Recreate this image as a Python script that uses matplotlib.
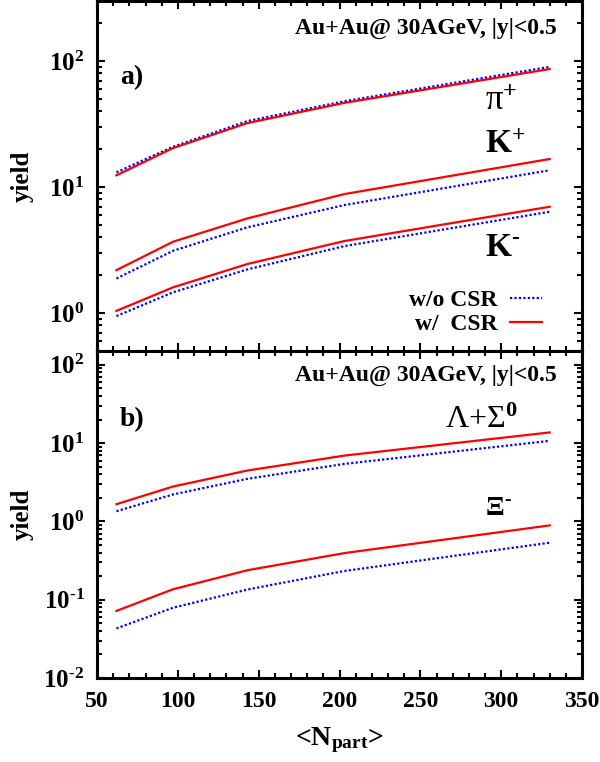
import matplotlib
matplotlib.use("Agg")
import matplotlib.pyplot as plt
from matplotlib.ticker import FuncFormatter, MultipleLocator, LogLocator
import numpy as np

plt.rcParams['font.family'] = ['Liberation Serif', 'DejaVu Serif']
plt.rcParams['font.weight'] = 'bold'
plt.rcParams['mathtext.fontset'] = 'custom'
plt.rcParams['mathtext.rm'] = 'Liberation Serif:bold'
plt.rcParams['mathtext.bf'] = 'Liberation Serif:bold'
plt.rcParams['mathtext.it'] = 'Liberation Serif:italic:bold'

# <N_part> grid
npart = [62, 97, 143, 203, 330]

# panel a) pi+, K+, K-  (w/o CSR = blue dotted, w/ CSR = red solid)
pi_wo = [13.1, 20.9, 33.4, 48.0, 90.0]
pi_w = [12.4, 20.4, 32.2, 46.6, 86.5]
kp_wo = [1.88, 3.12, 4.79, 7.2, 13.6]
kp_w = [2.19, 3.68, 5.64, 8.8, 16.7]
km_wo = [0.946, 1.46, 2.22, 3.4, 6.37]
km_w = [1.04, 1.60, 2.45, 3.73, 6.98]

# panel b) Lambda+Sigma0, Xi-
lam_wo = [1.35, 2.21, 3.5, 5.43, 10.7]
lam_w = [1.66, 2.79, 4.47, 6.93, 13.7]
xi_wo = [0.043, 0.079, 0.135, 0.233, 0.535]
xi_w = [0.072, 0.136, 0.238, 0.394, 0.89]

BLUE = '#0000ff'
RED = '#ff0000'
DOT = (0, (1, 1))


def exp_label(v, p):
    e = int(round(np.log10(v)))
    if e < 0:
        return r'$\mathbf{10^{\text{-}%d}}$' % (-e)
    return r'$\mathbf{10^{%d}}$' % e


fig = plt.figure(figsize=(6, 7.62), dpi=100)
ax1 = fig.add_axes([0.1617, 0.5394, 0.8083, 0.4593])
ax2 = fig.add_axes([0.1617, 0.1102, 0.8083, 0.4291])

for wo, w in [(pi_wo, pi_w), (kp_wo, kp_w), (km_wo, km_w)]:
    ax1.plot(npart, wo, color=BLUE, ls=DOT, lw=1.6)
    ax1.plot(npart, w, color=RED, lw=1.6)

for wo, w in [(lam_wo, lam_w), (xi_wo, xi_w)]:
    ax2.plot(npart, wo, color=BLUE, ls=DOT, lw=1.6)
    ax2.plot(npart, w, color=RED, lw=1.6)

for ax in (ax1, ax2):
    ax.set_yscale('log')
    ax.set_xlim(50, 350)
    ax.xaxis.set_major_locator(MultipleLocator(50))
    ax.xaxis.set_minor_locator(MultipleLocator(10))
    ax.yaxis.set_major_locator(LogLocator(base=10, numticks=10))
    ax.yaxis.set_minor_locator(LogLocator(base=10, subs=np.arange(2, 10), numticks=20))
    ax.yaxis.set_major_formatter(FuncFormatter(exp_label))
    ax.tick_params(which='both', direction='in', top=True, right=True, width=1.5)
    ax.tick_params(which='major', length=6)
    ax.tick_params(which='minor', length=3.5)
    ax.tick_params(axis='y', which='major', labelsize=18, pad=9)
    ax.tick_params(axis='x', which='major', labelsize=17, pad=9)
    for s in ax.spines.values():
        s.set_linewidth(2.2)
    ax.set_ylabel('yield', fontsize=18, fontweight='bold')
    ax.yaxis.set_label_coords(-0.13, 0.5)

ax1.set_ylim(0.5, 300)
ax2.set_ylim(0.01, 150)
ax1.tick_params(axis='x', labelbottom=False)

ax2.set_xlabel('<N$_{\\mathbf{part}}$>', fontsize=20, fontweight='bold')
ax2.xaxis.set_label_coords(0.5, -0.145)

title = 'Au+Au@ 30AGeV, |y|<0.5'
ax1.text(0.948, 0.923, title, transform=ax1.transAxes, ha='right', va='center',
         fontsize=17, fontweight='bold')
ax2.text(0.948, 0.927, title, transform=ax2.transAxes, ha='right', va='center',
         fontsize=17, fontweight='bold')

ax1.text(0.047, 0.78, 'a)', transform=ax1.transAxes, ha='left', va='center',
         fontsize=20, fontweight='bold')
ax2.text(0.047, 0.789, 'b)', transform=ax2.transAxes, ha='left', va='center',
         fontsize=20, fontweight='bold')

ax1.text(0.80, 0.714, 'π$^{\\mathbf{+}}$', transform=ax1.transAxes, ha='left', va='center',
         fontsize=25, fontweight='normal')
ax1.text(0.80, 0.591, 'K$^{\\mathbf{+}}$', transform=ax1.transAxes, ha='left', va='center',
         fontsize=24, fontweight='bold')
ax1.text(0.80, 0.297, 'K$^{\\text{-}}$', transform=ax1.transAxes, ha='left', va='center',
         fontsize=24, fontweight='bold')

ax2.text(0.718, 0.789, 'Λ+Σ$^{\\mathbf{0}}$', transform=ax2.transAxes, ha='left', va='center',
         fontsize=23, fontweight='normal')
ax2.text(0.80, 0.52, 'Ξ$^{\\text{-}}$', transform=ax2.transAxes, ha='left', va='center',
         fontsize=20, fontweight='bold')

h_wo, = ax1.plot([], [], color=BLUE, ls=DOT, lw=1.6)
h_w, = ax1.plot([], [], color=RED, lw=1.6)
ax1.legend([h_wo, h_w], ['w/o CSR', 'w/  CSR'], loc='lower right',
           bbox_to_anchor=(0.918, 0.045), frameon=False, markerfirst=False,
           handlelength=1.35, handletextpad=0.55, labelspacing=0.12,
           borderpad=0, borderaxespad=0, prop={'weight': 'bold', 'size': 17})

fig.savefig('out.png', dpi=100)
